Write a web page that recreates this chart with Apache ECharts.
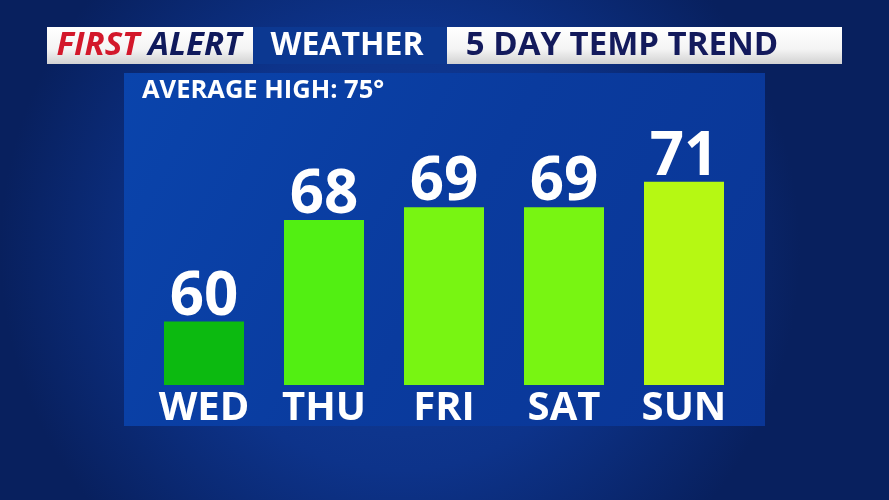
<!DOCTYPE html>
<html>
<head>
<meta charset="utf-8">
<style>
html,body{margin:0;padding:0;background:#0a2a78;}
#chart{width:889px;height:500px;}
</style>
<script src="https://cdn.jsdelivr.net/npm/echarts@6/dist/echarts.min.js"></script>
</head>
<body>
<div id="chart"></div>
<script>
// ---- data ----
const days = ['WED', 'THU', 'FRI', 'SAT', 'SUN'];
const highs = [60, 68, 69, 69, 71];
const averageHigh = 75;
const headerLeftRed = 'FIRST';
const headerLeftNavy = 'ALERT';
const headerMiddle = 'WEATHER';
const headerRight = '5 DAY TEMP TREND';

// ---- style ----
const barColors = ['#0cba10', '#52ef12', '#78f512', '#78f512', '#b6f813'];
const FONT = '"Open Sans", "DejaVu Sans", sans-serif';

const chart = echarts.init(document.getElementById('chart'), null, {renderer: 'canvas'});

const whiteGrad = new echarts.graphic.LinearGradient(0, 0, 0, 1, [
  {offset: 0, color: '#ffffff'},
  {offset: 0.6, color: '#f4f4f4'},
  {offset: 1, color: '#d2d2d2'}
]);

chart.setOption({
  animation: false,
  backgroundColor: '#0a2a78',
  graphic: [
    {type: 'rect', z: -10, silent: true, shape: {x: 0, y: 0, width: 889, height: 500},
      style: {fill: new echarts.graphic.RadialGradient(0.45, 0.5, 0.8, [
        {offset: 0, color: '#133f9c'},
        {offset: 0.55, color: '#0d338a'},
        {offset: 1, color: '#08205e'}
      ])}},
    // header bar
    {type: 'rect', z: -5, silent: true, shape: {x: 253, y: 27, width: 194, height: 37},
      style: {fill: '#0c3891'}},
    {type: 'rect', z: -5, silent: true, shape: {x: 47, y: 27, width: 206, height: 37},
      style: {fill: whiteGrad}},
    {type: 'rect', z: -5, silent: true, shape: {x: 447, y: 27, width: 395, height: 37},
      style: {fill: whiteGrad}},
    {type: 'text', silent: true, style: {
      x: 149, y: 46, align: 'center', verticalAlign: 'middle',
      text: '{r|' + headerLeftRed + '}{n| ' + headerLeftNavy + '}',
      rich: {
        r: {fill: '#d3182b', font: 'italic bold 33px ' + FONT},
        n: {fill: '#101a5c', font: 'italic bold 33px ' + FONT}
      }
    }},
    {type: 'text', silent: true, style: {
      x: 347, y: 46, align: 'center', verticalAlign: 'middle',
      text: headerMiddle, fill: '#ffffff', font: 'bold 32px ' + FONT
    }},
    {type: 'text', silent: true, style: {
      x: 622, y: 46, align: 'center', verticalAlign: 'middle',
      text: headerRight, fill: '#131a5c', font: 'bold 33px ' + FONT
    }},
    // panel
    {type: 'rect', z: -6, silent: true, shape: {x: 124, y: 73, width: 641, height: 353},
      style: {fill: new echarts.graphic.LinearGradient(0, 0, 1, 1, [
        {offset: 0, color: '#0a44ac'},
        {offset: 0.5, color: '#0a3b9e'},
        {offset: 1, color: '#0a3696'}
      ])}},
    {type: 'text', silent: true, style: {
      x: 142, y: 91, align: 'left', verticalAlign: 'middle',
      text: 'AVERAGE HIGH: ' + averageHigh + '°', fill: '#ffffff', font: 'bold 25.5px ' + FONT
    }}
  ],
  grid: {left: 144, width: 600, top: 67.5, height: 317.5, containLabel: false},
  xAxis: {
    type: 'category',
    data: days,
    axisLine: {show: false},
    axisTick: {show: false},
    splitLine: {show: false},
    axisLabel: {color: '#ffffff', fontFamily: FONT, fontWeight: 'bold', fontSize: 40, margin: 4}
  },
  yAxis: {
    type: 'value', min: 55, max: 80, show: false,
    splitLine: {show: false}
  },
  series: [{
    type: 'bar',
    data: highs.map((v, i) => ({value: v, itemStyle: {color: barColors[i]}})),
    barWidth: 80,
    label: {
      show: true, position: 'top', distance: -6,
      color: '#ffffff', fontFamily: FONT, fontWeight: 'bold', fontSize: 60
    }
  }]
});
</script>
</body>
</html>
